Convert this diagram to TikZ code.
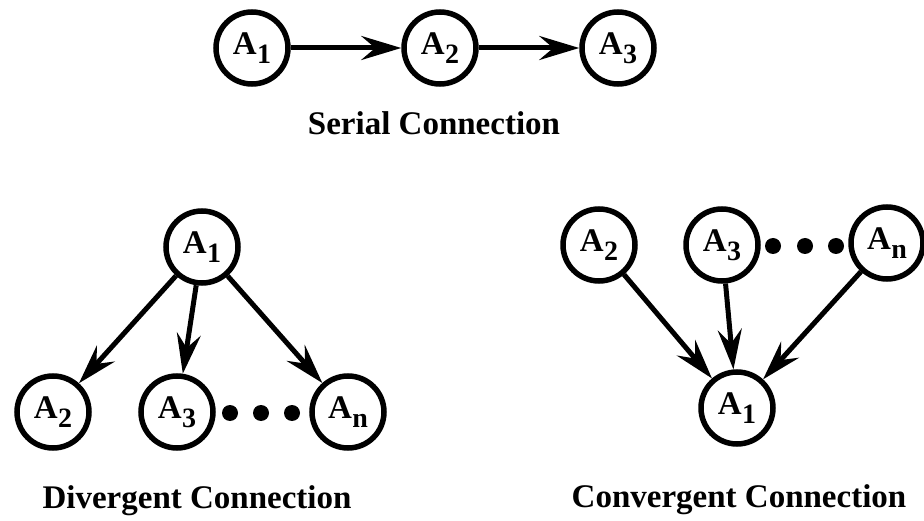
\documentclass[tikz,border=0pt]{standalone}
\usepackage{fontspec}
\setmainfont{Liberation Serif}
\usetikzlibrary{arrows.meta}
% letter with a lowered index, as used inside every state circle
\newcommand\subA[1]{A\kern0.5pt\raisebox{-0.26em}{\fontsize{28}{28}\selectfont #1}}
\begin{document}
\begin{tikzpicture}[x=1pt,y=-1pt,
  state/.style={circle,draw,line width=5.5pt,minimum size=72pt,inner sep=0pt,
    font=\fontsize{33}{36}\selectfont\bfseries},
  link/.style={line width=5pt,-{Stealth[length=40pt,width=24pt,inset=14pt]}},
  caption/.style={anchor=base,font=\fontsize{33}{38}\selectfont\bfseries},
  dot/.style={circle,fill,inner sep=0pt,minimum size=16pt}]
\path[use as bounding box] (0,0) rectangle (924,521);

% serial chain
\node[state] (s1) at (252,48) {\subA{1}};
\node[state] (s2) at (440,48) {\subA{2}};
\node[state] (s3) at (618,48) {\subA{3}};
\draw[link] (s1) -- (s2);
\draw[link] (s2) -- (s3);
\node[caption] (scap) at (434,135) {Serial Connection};

% divergent fan-out
\node[state] (d1) at (202,247) {\subA{1}};
\node[state] (d2) at (53,412) {\subA{2}};
\node[state] (d3) at (177,412) {\subA{3}};
\node[state] (dn) at (348,412) {\subA{n}};
\node[dot] (dd1) at (230,413) {};
\node[dot] (dd2) at (261,413) {};
\node[dot] (dd3) at (292,413) {};
\draw[link] (d1) -- (d2);
\draw[link] (d1) -- (d3);
\draw[link] (d1) -- (dn);
\node[caption] (dcap) at (197,508) {Divergent Connection};

% convergent fan-in
\node[state] (c2) at (599,245) {\subA{2}};
\node[state] (c3) at (722,245) {\subA{3}};
\node[state] (cn) at (887,243) {\subA{n}};
\node[dot] (cd1) at (773,246) {};
\node[dot] (cd2) at (805,246) {};
\node[dot] (cd3) at (836,246) {};
\node[state] (c1) at (737,408) {\subA{1}};
\draw[link] (c2) -- (c1);
\draw[link] (c3) -- (c1);
\draw[link] (cn) -- (c1);
\node[caption] (ccap) at (739,507) {Convergent Connection};
\end{tikzpicture}
\end{document}
